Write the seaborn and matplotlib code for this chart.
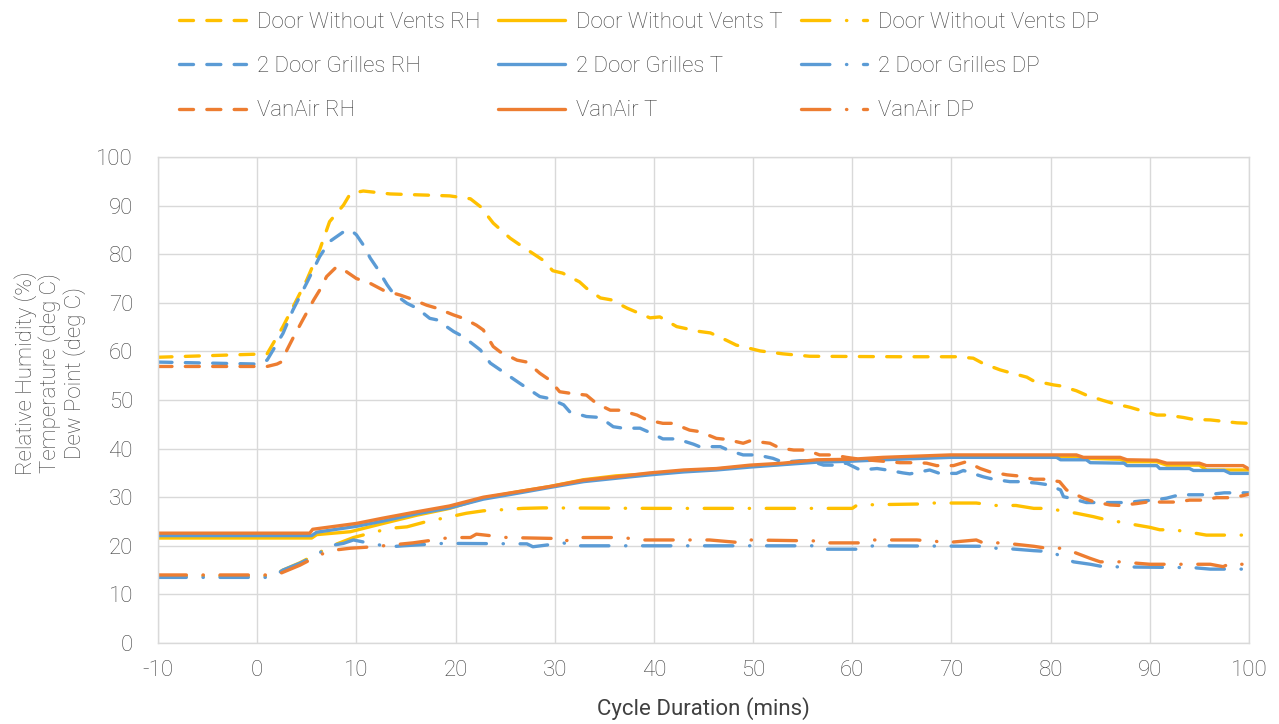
import matplotlib
matplotlib.use("Agg")
import matplotlib.pyplot as plt
import seaborn as sns
import pandas as pd

# ---------------- data ----------------
door_rh_x = [-10, 1, 2.6, 5, 6.3, 7.3, 8.7, 9.4, 10.7, 13.4, 19.4, 21.5, 22.5, 23.8, 25.5, 26.5, 28.8, 29.8, 30.8, 32.5,
             33.2, 34.6, 35.7, 37.3, 38.1, 39.6, 40.6, 42.3, 44.6, 45.7, 47.3, 48.3, 49.7, 50.7, 53.0, 55.7, 64.8, 70.5, 72.2, 73.2,
             74.9, 75.6, 77.6, 78.2, 80.3, 81.0, 82.6, 83.6, 85.3, 86.3, 88.0, 89.0, 90.7, 91.7, 93.4, 94.4, 96.1, 98.8, 100]
door_rh_y = [58.8, 59.5, 65.1, 74.7, 80.9, 86.7, 90.1, 92.5, 93.0, 92.4, 92.0, 91.4, 89.8, 86.4, 83.3, 81.9, 78.8, 76.6, 76.1, 74.3,
             73.0, 71.0, 70.6, 68.9, 68.2, 66.9, 67.1, 65.1, 64.1, 63.8, 62.3, 61.3, 60.6, 60.1, 59.5, 59.0, 58.9, 58.9, 58.6, 57.5,
             56.2, 55.8, 54.7, 54.0, 53.1, 52.9, 51.9, 51.0, 49.9, 49.3, 48.5, 47.9, 46.9, 46.9, 46.4, 46.0, 45.9, 45.3, 45.2]

grille_rh_x = [-10, 0, 1, 2.6, 3.6, 5, 6.3, 7.3, 8.7, 9.4, 10, 10.7, 11.4, 12.1, 13.1, 13.7, 15.1, 16.1, 17.4, 18.1,
               19.8, 20.8, 22.5, 23.5, 24.5, 26.5, 28.5, 29.5, 30.9, 31.5, 33.2, 34.6, 35.9, 36.9, 38.6, 39.6, 40.9, 42.3, 44.0, 44.6,
               46.7, 47.7, 49, 50.4, 52, 53, 54.7, 55.7, 57.1, 58.4, 59.4, 60.8, 62.5, 63.5, 65.1, 65.8, 67.8, 68.8, 70.5, 71.2,
               73.2, 74.2, 75.9, 76.9, 78.6, 79.6, 81, 81.3, 82, 83.6, 85, 87.7, 89, 90.4, 91.7, 93, 95.7, 97.5, 100]
grille_rh_y = [57.8, 57.4, 58.2, 63.7, 68.5, 74.1, 79.5, 82.6, 84.6, 85.0, 84.0, 81.9, 79.2, 77.1, 73.7, 72.0, 69.9, 68.9, 66.8, 66.5,
               64.1, 63.0, 60.3, 57.6, 56.2, 53.4, 50.7, 50.3, 49.0, 47.6, 46.6, 46.4, 44.5, 44.2, 44.2, 43.3, 42.0, 42.0, 40.9, 40.4,
               40.4, 39.5, 38.7, 38.7, 38.0, 37.2, 37.5, 37.5, 36.6, 36.6, 37.0, 35.6, 35.9, 35.6, 35.0, 34.8, 35.6, 34.9, 34.9, 35.5,
               34.2, 33.7, 33.2, 33.2, 32.9, 32.6, 31.5, 30.1, 29.8, 28.9, 28.9, 28.9, 29.2, 29.4, 29.8, 30.5, 30.5, 30.9, 30.9]

vanair_rh_x = [-10, 1, 2, 2.5, 3, 3.6, 4.6, 5.7, 6.3, 7, 8, 9, 10, 11.4, 12.7, 14.4, 15.4, 17.1, 18.1, 19.8,
               20.8, 22.1, 22.8, 23.8, 24.5, 26.2, 27.2, 28.5, 29.5, 30.5, 31.5, 33.2, 34.2, 35.6, 36.6, 38.3, 39.3, 40.9, 41.9, 43.6,
               44.6, 46.3, 47.3, 49, 49.7, 51.7, 52.7, 54.1, 55.4, 56.7, 58.1, 59.4, 60.8, 64.8, 66.2, 67.5, 68.5, 70.2, 71.5, 72.9,
               73.9, 75.6, 76.6, 78.3, 79.4, 80.9, 81.6, 83.3, 84.3, 86, 87, 88.7, 89.7, 91.4, 92.7, 94, 95.4, 96.7, 98.4, 100]
vanair_rh_y = [56.9, 56.9, 57.4, 57.9, 60.3, 62.7, 66.5, 70.6, 72.6, 75.4, 77.4, 76.4, 75.0, 74.0, 72.6, 71.6, 70.9, 69.5, 68.9, 67.5,
               66.8, 65.4, 64.4, 61.0, 59.9, 58.2, 57.8, 55.5, 54.1, 51.7, 51.4, 51.0, 49.3, 47.9, 47.9, 46.9, 45.9, 45.2, 45.2, 43.8,
               43.5, 42.1, 41.9, 41.1, 41.6, 41.1, 40.1, 39.7, 39.7, 38.7, 38.7, 38.2, 37.8, 37.1, 37.1, 37.0, 36.5, 36.5, 37.3, 35.9,
               35.2, 34.6, 34.4, 33.7, 33.7, 33.2, 31.5, 29.8, 29.1, 28.4, 28.3, 28.7, 29.0, 29.0, 29.0, 29.4, 29.4, 29.9, 29.9, 30.6]

door_t_x = [-10, 5.5, 6.0, 9.4, 12.7, 16.1, 19.4, 22.8, 26.2, 29.5, 32.9, 36.2, 39.6, 43.0, 46.3, 49.7, 53.0, 56.4, 59.8, 63.1,
            69.8, 82.6, 83.3, 87.0, 87.7, 90.7, 91.7, 95.0, 95.7, 100]
door_t_y = [21.6, 21.6, 22.3, 22.9, 24.6, 26.3, 27.7, 29.8, 31.1, 32.2, 33.6, 34.4, 34.8, 35.4, 35.8, 36.4, 36.8, 37.5, 37.6, 38.0,
            38.3, 38.4, 38.0, 37.8, 37.3, 37.3, 36.6, 36.6, 35.6, 35.6]

grille_t_x = [-10, 5.5, 6, 10, 12.7, 16.1, 19.4, 22.8, 26.2, 29.5, 32.9, 36.2, 39.6, 43, 46.3, 49.7, 53, 56.4, 59.8, 63.1,
              70, 80.6, 81, 83.6, 84, 87.4, 87.7, 90.7, 91, 94, 94.4, 97.5, 98.1, 100]
grille_t_y = [22.1, 22.1, 22.8, 24.0, 25.1, 26.6, 27.8, 29.6, 30.8, 32.0, 33.2, 33.9, 34.6, 35.2, 35.6, 36.2, 36.7, 37.2, 37.4, 37.7,
              38.2, 38.2, 37.7, 37.7, 37.1, 37.0, 36.5, 36.5, 35.9, 35.9, 35.5, 35.5, 34.9, 34.9]

vanair_t_x = [-10, 5.3, 5.6, 10.0, 12.7, 16.1, 19.4, 22.8, 26.2, 29.5, 32.9, 36.2, 39.6, 43.0, 46.3, 49.7, 53.0, 56.4, 59.8, 63.1,
              69.9, 82.6, 83.3, 87.0, 87.7, 90.7, 91.7, 95.0, 95.7, 99.4, 100]
vanair_t_y = [22.6, 22.6, 23.4, 24.6, 25.7, 27.0, 28.2, 30.0, 31.1, 32.2, 33.5, 34.2, 35.0, 35.6, 35.9, 36.6, 37.0, 37.7, 37.8, 38.2,
              38.7, 38.7, 38.2, 38.2, 37.7, 37.6, 37.0, 37.0, 36.5, 36.5, 35.8]

door_dp_x = [-10, 1.5, 2.6, 4.3, 6.0, 7.3, 9.7, 11.4, 13.4, 15.1, 17.1, 18.8, 21.1, 22.8, 24.5, 26.8, 28.8, 40, 50, 60,
             60.5, 66.8, 67.5, 72.5, 74.5, 76.5, 78.3, 80, 81, 82.6, 84.3, 85.7, 86.7, 88.3, 90, 91, 92.4, 94, 95.7, 100]
door_dp_y = [13.8, 13.8, 15.0, 16.5, 18.3, 19.8, 21.7, 22.6, 23.6, 23.9, 25.0, 25.7, 26.7, 27.2, 27.4, 27.7, 27.8, 27.7, 27.7, 27.7,
             28.4, 28.6, 28.8, 28.8, 28.3, 28.3, 27.7, 27.7, 27.2, 26.7, 26.0, 25.3, 25.0, 24.4, 23.8, 23.3, 23.3, 22.8, 22.2, 22.2]

grille_dp_x = [-10, 1.5, 2.6, 4.3, 6, 7.3, 8.7, 9.7, 11.4, 13.4, 14.7, 18.8, 27.2, 27.8, 30.9, 31.6, 57, 57.5, 60.6, 62.1,
               73.9, 74.5, 75.2, 78.3, 80, 81, 82.3, 84, 85.3, 94.4, 96.1, 100]
grille_dp_y = [13.5, 13.5, 15.0, 16.4, 18.1, 20.0, 20.5, 21.2, 20.5, 19.8, 20.0, 20.5, 20.4, 19.8, 20.6, 20.0, 20.0, 19.3, 19.3, 20.0,
               19.9, 19.5, 19.5, 19.0, 18.8, 17.9, 16.7, 16.2, 15.7, 15.5, 15.2, 15.2]

vanair_dp_x = [-10, 2, 2.3, 4.3, 6, 7.3, 9.4, 11.7, 13.7, 15.7, 17.8, 19.4, 21.5, 22.1, 25.2, 30.2, 30.9, 31.9, 36.9, 38.6,
               45.6, 49, 49.7, 56.4, 57.1, 60.6, 62.1, 66.5, 68.5, 69.2, 72.5, 73.2, 75.2, 78.3, 79.6, 81.3, 84, 85, 87, 90,
               96.1, 97.4, 98.1, 98.8, 100]
vanair_dp_y = [14.0, 14.0, 14.3, 16.0, 17.8, 19.0, 19.5, 19.8, 20.2, 20.6, 21.2, 21.7, 21.7, 22.4, 21.7, 21.5, 20.8, 21.7, 21.7, 21.2,
               21.2, 20.6, 21.2, 21.0, 20.6, 20.6, 21.2, 21.2, 20.9, 20.6, 21.2, 20.6, 20.6, 19.9, 19.5, 19.5, 17.4, 16.7, 16.7, 16.2,
               16.2, 15.7, 16.4, 16.2, 16.2]

x_ticks = [-10, 0, 10, 20, 30, 40, 50, 60, 70, 80, 90, 100]
y_ticks = [0, 10, 20, 30, 40, 50, 60, 70, 80, 90, 100]

# ---------------- style ----------------
YEL, BLU, ORA = "#FFC000", "#5B9BD5", "#ED7D31"
TXT = "#404040"
GRID = "#D9D9D9"
FS = 16

sns.set_theme(style="white")
plt.rcParams["font.family"] = ["Roboto", "DejaVu Sans"]
plt.rcParams["font.weight"] = "light"
plt.rcParams["axes.unicode_minus"] = False

DASH = (0, (4.2, 4.0))
DASHDOT = (0, (8.5, 5.0, 0.1, 5.0))
LW = 2.4

series = [
    ("Door Without Vents RH", door_rh_x, door_rh_y, YEL, DASH),
    ("Door Without Vents T", door_t_x, door_t_y, YEL, "-"),
    ("Door Without Vents DP", door_dp_x, door_dp_y, YEL, DASHDOT),
    ("2 Door Grilles RH", grille_rh_x, grille_rh_y, BLU, DASH),
    ("2 Door Grilles T", grille_t_x, grille_t_y, BLU, "-"),
    ("2 Door Grilles DP", grille_dp_x, grille_dp_y, BLU, DASHDOT),
    ("VanAir RH", vanair_rh_x, vanair_rh_y, ORA, DASH),
    ("VanAir T", vanair_t_x, vanair_t_y, ORA, "-"),
    ("VanAir DP", vanair_dp_x, vanair_dp_y, ORA, DASHDOT),
]

fig = plt.figure(figsize=(12.79, 7.24), dpi=100)
ax = fig.add_axes([158 / 1279, 1 - 643 / 724, (1249 - 158) / 1279, (643 - 157) / 724])

handles = {}
for name, xs, ys, col, ls in series:
    df = pd.DataFrame({"x": xs, "y": ys})
    sns.lineplot(data=df, x="x", y="y", ax=ax, color=col, linewidth=LW, linestyle=ls,
                 estimator=None, sort=False, dash_capstyle="round", solid_capstyle="round",
                 solid_joinstyle="round", dash_joinstyle="round", legend=False)
    handles[name] = ax.lines[-1]

ax.set_xlim(-10, 100)
ax.set_ylim(0, 100)
ax.set_xticks(x_ticks)
ax.set_yticks(y_ticks)
ax.grid(True, color=GRID, linewidth=1.0)
for s in ax.spines.values():
    s.set_color(GRID)
    s.set_linewidth(1.0)
ax.tick_params(axis="both", length=0, labelsize=FS, colors=TXT)
ax.tick_params(axis="y", pad=18)
ax.tick_params(axis="x", pad=12)
ax.set_xlabel("Cycle Duration (mins)", fontsize=FS, color=TXT, labelpad=12)
ax.set_ylabel("")
fig.text(50 / 1279, 1 - 373 / 724, "Relative Humidity (%)\nTemperature (deg C)\nDew Point (deg C)",
         rotation=90, ha="center", va="center", multialignment="center", fontsize=FS, color=TXT,
         linespacing=1.1)

order = ["Door Without Vents RH", "2 Door Grilles RH", "VanAir RH",
         "Door Without Vents T", "2 Door Grilles T", "VanAir T",
         "Door Without Vents DP", "2 Door Grilles DP", "VanAir DP"]
leg = fig.legend([handles[n] for n in order], order, loc="upper center", bbox_to_anchor=(0.5, 0.99),
                 ncol=3, frameon=False, fontsize=FS, handlelength=3.0, handletextpad=0.5,
                 columnspacing=0.8, labelspacing=1.05, borderaxespad=0.0, borderpad=0.2)
for t in leg.get_texts():
    t.set_color(TXT)

fig.savefig("out.png", dpi=100)
